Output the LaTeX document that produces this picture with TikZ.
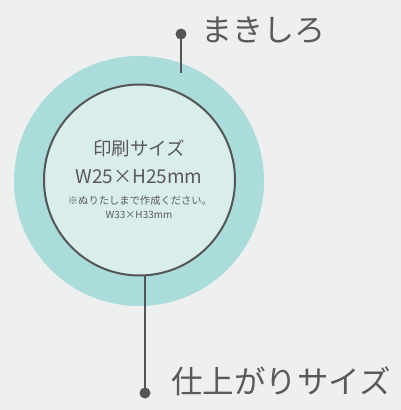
\documentclass[tikz,border=0pt]{standalone}
\usepackage{fontspec}
\setmainfont{Noto Sans CJK JP}
\definecolor{bg}{HTML}{EEEFEF}
\definecolor{outerc}{HTML}{A9DCDB}
\definecolor{innerc}{HTML}{D9EEEC}
\definecolor{linec}{HTML}{555555}
\definecolor{textc}{HTML}{5A5A5A}
\begin{document}
\begin{tikzpicture}[x=1pt,y=-1pt,
  lbl/.style={inner sep=0pt,text=textc},
  dotc/.style={circle,fill=linec,inner sep=0pt,minimum size=11pt},
  conn/.style={draw=linec,line width=1.6pt}]
\fill[bg] (0,0) rectangle (401,410);
\useasboundingbox (0,0) rectangle (401,410);
\node[circle,fill=outerc,minimum size=250pt,inner sep=0pt] (outer) at (139,181) {};
\node[circle,fill=innerc,draw=linec,line width=2pt,minimum size=191pt,inner sep=0pt] (inner) at (139.5,180) {};
\node[lbl,font=\fontsize{18.5}{20}\selectfont] (t1) at (139,148) {印刷サイズ};
\node[lbl,font=\fontsize{19}{22}\selectfont] (t2) at (139,177) {W25×H25mm};
\node[lbl,font=\fontsize{10.3}{11}\selectfont] (t3) at (140,201) {※ぬりたしまで作成ください。};
\node[lbl,font=\fontsize{10}{11}\selectfont] (t4) at (139,215) {W33×H33mm};
\node[dotc] (d1) at (181,34) {};
\coordinate (e1) at (181,73);
\draw[conn] (d1.center) -- (e1);
\node[lbl,anchor=west,font=\fontsize{31}{34}\selectfont] (l1) at (201,30) {まきしろ};
\node[dotc] (d2) at (145,393) {};
\coordinate (e2) at (145,275);
\draw[conn] (e2) -- (d2.center);
\node[lbl,anchor=west,font=\fontsize{31.5}{34}\selectfont] (l2) at (171,381) {仕上がりサイズ};
\end{tikzpicture}
\end{document}
